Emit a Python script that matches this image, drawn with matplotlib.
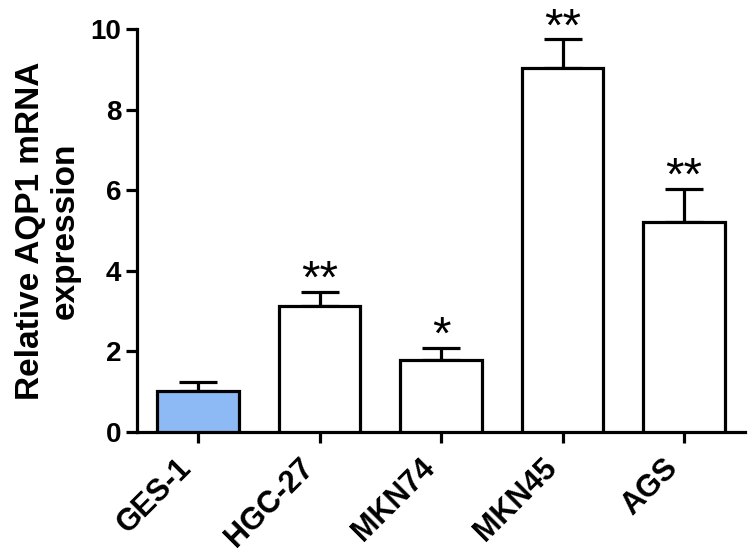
import numpy as np
import matplotlib.pyplot as plt

plt.rcParams['font.family'] = ['Liberation Sans', 'DejaVu Sans']
plt.rcParams['font.weight'] = 'bold'

CELL_LINES = ['GES-1', 'HGC-27', 'MKN74', 'MKN45', 'AGS']
MEANS = [1.0, 3.13, 1.79, 9.03, 5.21]
SEM = [0.24, 0.35, 0.30, 0.72, 0.83]
STARS = ['', '**', '*', '**', '**']
COLORS = ['#8DB9F4', 'white', 'white', 'white', 'white']


def plot():
    fig = plt.figure(figsize=(7.5, 5.6), dpi=100)
    ax = fig.add_axes([0.183, 0.229, 0.81, 0.719])

    x = np.arange(len(CELL_LINES))
    lw = 2.3
    ax.bar(x, MEANS, 0.67, color=COLORS, edgecolor='black', linewidth=lw, zorder=3)
    ax.errorbar(x, MEANS, yerr=[np.zeros(len(SEM)), SEM], fmt='none',
                ecolor='black', elinewidth=lw, capsize=14, capthick=lw, zorder=2)

    # significance stars sit just above the error-bar cap
    for xi, m, s, st in zip(x, MEANS, SEM, STARS):
        if st:
            ax.annotate(st, (xi, m + s), xytext=(0, -1), textcoords='offset points',
                        ha='center', va='baseline', fontsize=34,
                        fontweight='normal', annotation_clip=False)

    ax.set_xlim(-0.5, 4.5)
    ax.set_ylim(0, 10)
    ax.set_yticks([0, 2, 4, 6, 8, 10])
    ax.set_xticks(x)
    ax.set_xticklabels(CELL_LINES, rotation=45, ha='right',
                       fontsize=22, fontweight='bold')
    for lbl in ax.get_yticklabels():
        lbl.set_fontsize(20)
        lbl.set_fontweight('bold')
    ax.set_ylabel('Relative AQP1 mRNA\nexpression', fontsize=24, fontweight='bold',
                  labelpad=7, linespacing=1.15)

    for side in ['top', 'right']:
        ax.spines[side].set_visible(False)
    for side in ['left', 'bottom']:
        ax.spines[side].set_linewidth(lw)
    ax.tick_params(axis='both', width=lw, length=8, direction='out')
    ax.tick_params(axis='x', pad=7)

    fig.savefig('out.png', dpi=100)


if __name__ == '__main__':
    plot()
